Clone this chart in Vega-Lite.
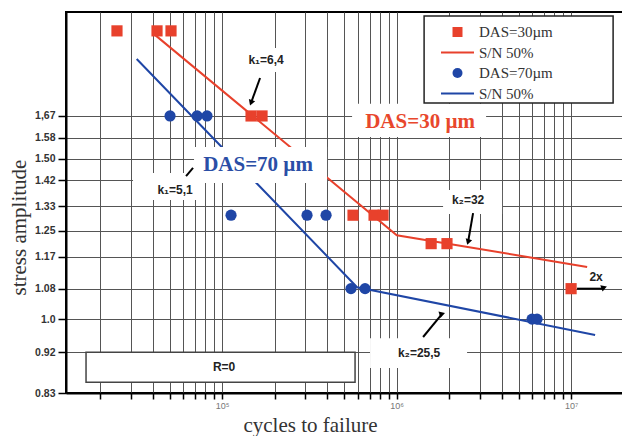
{
  "$schema": "https://vega.github.io/schema/vega-lite/v6.json",
  "width": 558,
  "height": 381,
  "autosize": {"type": "none"},
  "padding": {"left": 66, "top": 12, "right": 0, "bottom": 43},
  "background": "white",
  "config": {
    "view": {"stroke": "black", "strokeWidth": 2},
    "legend": {
      "orient": "none",
      "legendX": 384,
      "legendY": 12.5,
      "padding": 0,
      "labelFont": "Liberation Serif",
      "labelFontSize": 15,
      "labelColor": "#333",
      "symbolSize": 100,
      "symbolStrokeWidth": 0,
      "labelOffset": 14,
      "rowPadding": 4.5
    }
  },
  "datasets": {
    "points": [
      {"series": "DAS=30µm", "x": 25000, "y": 2.07},
      {"series": "DAS=30µm", "x": 42400, "y": 2.07},
      {"series": "DAS=30µm", "x": 51000, "y": 2.07},
      {"series": "DAS=30µm", "x": 146600, "y": 1.67},
      {"series": "DAS=30µm", "x": 169500, "y": 1.67},
      {"series": "DAS=30µm", "x": 563000, "y": 1.30},
      {"series": "DAS=30µm", "x": 743000, "y": 1.30},
      {"series": "DAS=30µm", "x": 837000, "y": 1.30},
      {"series": "DAS=30µm", "x": 1578000, "y": 1.21},
      {"series": "DAS=30µm", "x": 1945000, "y": 1.21},
      {"series": "DAS=30µm", "x": 10000000, "y": 1.08},
      {"series": "DAS=70µm", "x": 50350, "y": 1.67},
      {"series": "DAS=70µm", "x": 71950, "y": 1.67},
      {"series": "DAS=70µm", "x": 82000, "y": 1.67},
      {"series": "DAS=70µm", "x": 112600, "y": 1.30},
      {"series": "DAS=70µm", "x": 306900, "y": 1.30},
      {"series": "DAS=70µm", "x": 394500, "y": 1.30},
      {"series": "DAS=70µm", "x": 548000, "y": 1.08},
      {"series": "DAS=70µm", "x": 660000, "y": 1.08},
      {"series": "DAS=70µm", "x": 5976000, "y": 1.0},
      {"series": "DAS=70µm", "x": 6383000, "y": 1.0}
    ],
    "redline": [
      {"x": 40770, "y": 2.053},
      {"x": 1003000, "y": 1.236},
      {"x": 12360000, "y": 1.141}
    ],
    "blueline": [
      {"x": 32430, "y": 1.928},
      {"x": 594000, "y": 1.084},
      {"x": 13730000, "y": 0.961}
    ],
    "whiteboxes": [
      {"x": 556000, "x2": 3258000, "y": 1.584, "y2": 1.722},
      {"x": 69100, "x2": 399700, "y": 1.410, "y2": 1.544},
      {"x": 123500, "x2": 262000, "y": 1.866, "y2": 1.983},
      {"x": 30900, "x2": 79900, "y": 1.351, "y2": 1.446},
      {"x": 1847000, "x2": 4023000, "y": 1.304, "y2": 1.385},
      {"x": 704800, "x2": 2535000, "y": 0.884, "y2": 0.953}
    ],
    "legendframe": [
      {"x": 1438000, "x2": 17410000, "y": 1.726, "y2": 2.149}
    ],
    "rbox": [
      {"x": 16620, "x2": 578300, "y": 0.853, "y2": 0.920}
    ],
    "arrows": [
      {"id": "k1a", "x": 165100, "y": 1.838, "x2": 146600, "y2": 1.726},
      {"id": "k2a", "x": 2744000, "y": 1.307, "x2": 2569000, "y2": 1.215},
      {"id": "k2b", "x": 1419000, "y": 0.956, "x2": 1799000, "y2": 1.0104},
      {"id": "x2", "x": 10820000, "y": 1.08, "x2": 15250000, "y2": 1.08},
      {"id": "k1b", "x": 62200, "y": 1.435, "x2": 68200, "y2": 1.465}
    ],
    "heads": [
      {"id": "k1a", "x": 146600, "y": 1.726},
      {"id": "k2a", "x": 2569000, "y": 1.215},
      {"id": "k2b", "x": 1799000, "y": 1.0104},
      {"id": "x2", "x": 15250000, "y": 1.08}
    ],
    "klabels": [
      {"x": 178700, "y": 1.924, "t": "k₁=6,4"},
      {"x": 53800, "y": 1.385, "t": "k₁=5,1"},
      {"x": 2569000, "y": 1.351, "t": "k₂=32"},
      {"x": 1346000, "y": 0.918, "t": "k₂=25,5"},
      {"x": 13910000, "y": 1.112, "t": "2x"},
      {"x": 102700, "y": 0.886, "t": "R=0"}
    ],
    "das30": [{"x": 1364000, "y": 1.645, "t": "DAS=30 µm"}],
    "das70": [{"x": 160800, "y": 1.476, "t": "DAS=70 µm"}]
  },
  "encoding": {
    "x": {
      "field": "x",
      "type": "quantitative",
      "scale": {"type": "log", "domain": [12760, 20100000], "nice": false},
      "axis": {
        "values": [20000, 30000, 40000, 50000, 60000, 70000, 80000, 90000, 100000, 200000, 300000, 400000, 500000, 600000, 700000, 800000, 900000, 1000000, 2000000, 3000000, 4000000, 5000000, 6000000, 7000000, 8000000, 9000000, 10000000],
        "labelExpr": "datum.value==100000?'10⁵':datum.value==1000000?'10⁶':datum.value==10000000?'10⁷':''",
        "labelOverlap": false,
        "labelFlush": false,
        "title": "cycles to failure",
        "grid": true,
        "gridColor": "#555",
        "gridWidth": 1,
        "domainColor": "black",
        "domainWidth": 2,
        "tickColor": "black",
        "tickWidth": 1.5,
        "tickSize": 6,
        "labelFont": "Liberation Sans",
        "labelFontSize": 9,
        "labelColor": "#777",
        "labelPadding": 2,
        "titleFont": "Liberation Serif",
        "titleFontSize": 21,
        "titleFontWeight": "normal",
        "titleColor": "#333",
        "titleX": 244,
        "titleY": 38,
        "titleBaseline": "alphabetic"
      }
    },
    "y": {
      "field": "y",
      "type": "quantitative",
      "scale": {"type": "log", "domain": [0.83, 2.171], "nice": false},
      "axis": {
        "values": [0.83, 0.92, 1, 1.08, 1.17, 1.25, 1.33, 1.42, 1.5, 1.58, 1.67],
        "labelExpr": "datum.value==1.67?'1,67':datum.value==1?'1.0':format(datum.value,'.2f')",
        "labelOverlap": false,
        "labelFlush": false,
        "title": "stress amplitude",
        "grid": true,
        "gridColor": "#555",
        "gridWidth": 1,
        "domainColor": "black",
        "domainWidth": 2,
        "tickColor": "black",
        "tickWidth": 1.5,
        "tickSize": 8,
        "labelFont": "Liberation Sans",
        "labelFontWeight": "bold",
        "labelFontSize": 10.5,
        "labelColor": "#333",
        "labelPadding": 3,
        "titleFont": "Liberation Serif",
        "titleFontSize": 21,
        "titleFontWeight": "normal",
        "titleColor": "#333",
        "titleX": -41,
        "titleY": 215,
        "titleBaseline": "alphabetic"
      }
    }
  },
  "layer": [
    {
      "data": {"name": "redline"},
      "mark": {"type": "line", "color": "#e8412c", "strokeWidth": 2},
      "encoding": {}
    },
    {
      "data": {"name": "blueline"},
      "mark": {"type": "line", "color": "#1f46a6", "strokeWidth": 2},
      "encoding": {}
    },
    {
      "data": {"name": "whiteboxes"},
      "mark": {"type": "rect", "fill": "white", "stroke": null},
      "encoding": {"x2": {"field": "x2"}, "y2": {"field": "y2"}}
    },
    {
      "data": {"name": "legendframe"},
      "mark": {"type": "rect", "fill": "white", "stroke": "#222", "strokeWidth": 1.5},
      "encoding": {"x2": {"field": "x2"}, "y2": {"field": "y2"}}
    },
    {
      "data": {"name": "rbox"},
      "mark": {"type": "rect", "fill": "white", "stroke": "#444", "strokeWidth": 1.5},
      "encoding": {"x2": {"field": "x2"}, "y2": {"field": "y2"}}
    },
    {
      "data": {"name": "points"},
      "mark": {"type": "point", "filled": true, "opacity": 1, "size": 125},
      "encoding": {
        "color": {
          "field": "series",
          "type": "nominal",
          "scale": {
            "domain": ["DAS=30µm", "S/N 50% (30)", "DAS=70µm", "S/N 50% (70)"],
            "range": ["#e8412c", "#e8412c", "#1f46a6", "#1f46a6"]
          },
          "legend": {"title": null, "labelExpr": "indexof(datum.label,'S/N')==0?'S/N 50%':datum.label"}
        },
        "shape": {
          "field": "series",
          "type": "nominal",
          "scale": {
            "domain": ["DAS=30µm", "S/N 50% (30)", "DAS=70µm", "S/N 50% (70)"],
            "range": ["square", "M-3.3,-0.22H3.3V0.22H-3.3Z", "circle", "M-3.3,-0.22H3.3V0.22H-3.3Z"]
          },
          "legend": {"title": null, "labelExpr": "indexof(datum.label,'S/N')==0?'S/N 50%':datum.label"}
        }
      }
    },
    {
      "data": {"name": "arrows"},
      "mark": {"type": "rule", "color": "black", "strokeWidth": 2},
      "encoding": {"x2": {"field": "x2"}, "y2": {"field": "y2"}}
    },
    {
      "data": {"name": "heads"},
      "mark": {"type": "point", "shape": "triangle-up", "filled": true, "color": "black", "opacity": 1, "size": 45},
      "encoding": {
        "angle": {
          "field": "id",
          "type": "nominal",
          "scale": {"domain": ["k1a", "k2a", "k2b", "x2"], "range": [200, 190, 39, 90]},
          "legend": null
        }
      }
    },
    {
      "data": {"name": "klabels"},
      "mark": {"type": "text", "font": "Liberation Sans", "fontWeight": "bold", "fontSize": 12, "color": "#222"},
      "encoding": {"text": {"field": "t"}}
    },
    {
      "data": {"name": "das30"},
      "mark": {"type": "text", "font": "Liberation Serif", "fontWeight": "bold", "fontSize": 21, "color": "#e8472c"},
      "encoding": {"text": {"field": "t"}}
    },
    {
      "data": {"name": "das70"},
      "mark": {"type": "text", "font": "Liberation Serif", "fontWeight": "bold", "fontSize": 21, "color": "#2a4ea6"},
      "encoding": {"text": {"field": "t"}}
    }
  ]
}
